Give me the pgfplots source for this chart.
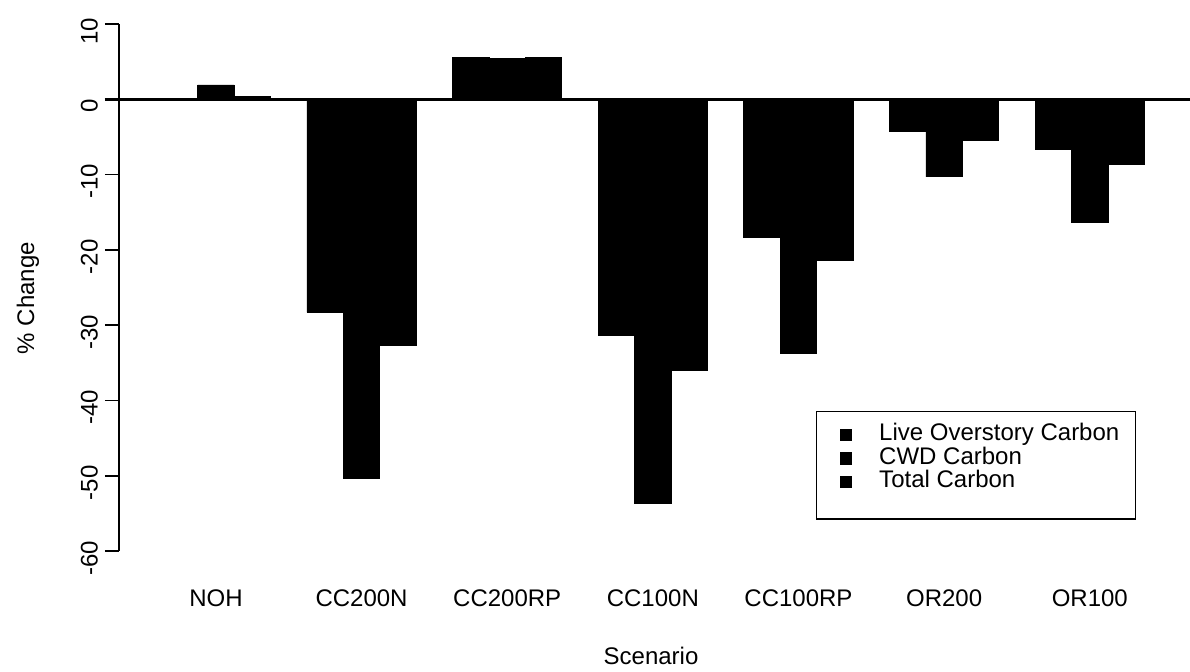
\documentclass[border=0pt]{standalone}
\usepackage{fontspec}
\setmainfont{Liberation Sans}
\usepackage{pgfplots}
\pgfplotsset{compat=1.18}
\begin{document}
\begin{tikzpicture}
\begin{axis}[
  x=18.205pt, y=3.765pt,
  xmin=-0.162, xmax=29.08,
  ymin=-60, ymax=10,
  axis y line*=left,
  axis x line*=bottom,
  x axis line style={draw=none},
  y axis line style={line width=0.85pt},
  xtick={2.5,6.5,10.5,14.5,18.5,22.5,26.5},
  xticklabels={NOH,CC200N,CC200RP,CC100N,CC100RP,OR200,OR100},
  ytick={-60,-50,-40,-30,-20,-10,0,10},
  yticklabels={-60,-50,-40,-30,-20,-10,0,10},
  tick align=outside,
  major tick length=7pt,
  xtick style={draw=none},
  ytick style={line width=0.85pt, black},
  yticklabel style={rotate=90, anchor=south, xshift=-3.5pt},
  xticklabel style={anchor=center, yshift=-16.5pt},
  tick label style={font=\fontsize{12}{14.4}\selectfont},
  label style={font=\fontsize{12}{14.4}\selectfont},
  xlabel={Scenario},
  ylabel={\% Change},
  xlabel style={at={(axis cs:14.45,-73.93)}, anchor=center},
  ylabel style={at={(axis cs:-2.661,-26.39)}, anchor=center},
  clip=false,
  legend style={at={(axis cs:18.98,-41.39)}, anchor=north west, draw=black,
    line width=0.75pt, fill=white, inner xsep=8pt, inner ysep=6pt,
    row sep=0pt, column sep=0pt,
    font=\fontsize{12}{14.4}\selectfont,
    nodes={inner sep=0pt}},
  legend cell align=left,
]
\addplot[ybar, bar width=1, bar shift=0pt, fill=black, draw=black,
  legend image code/.code={\fill[black] (0pt,-2.75pt) rectangle (5.5pt,2.75pt); \path (-3.5pt,-5.6pt) (19pt,2.75pt);}]
  coordinates {(1.5,0) (5.5,-28.3) (9.5,5.6) (13.5,-31.4) (17.5,-18.3) (21.5,-4.2) (25.5,-6.6)};
\addlegendentry[text height=8.6pt, text depth=2.9pt]{Live Overstory Carbon}
\addplot[ybar, bar width=1, bar shift=0pt, fill=black, draw=black,
  legend image code/.code={\fill[black] (0pt,-2.75pt) rectangle (5.5pt,2.75pt); \path (-3.5pt,-5.6pt) (19pt,2.75pt);}]
  coordinates {(2.5,1.9) (6.5,-50.4) (10.5,5.4) (14.5,-53.7) (18.5,-33.7) (22.5,-10.3) (26.5,-16.4)};
\addlegendentry[text height=8.6pt, text depth=2.9pt]{CWD Carbon}
\addplot[ybar, bar width=1, bar shift=0pt, fill=black, draw=black,
  legend image code/.code={\fill[black] (0pt,-2.75pt) rectangle (5.5pt,2.75pt); \path (-3.5pt,-5.6pt) (19pt,2.75pt);}]
  coordinates {(3.5,0.35) (7.5,-32.7) (11.5,5.6) (15.5,-36.0) (19.5,-21.4) (23.5,-5.5) (27.5,-8.6)};
\addlegendentry[text height=8.6pt, text depth=2.9pt]{Total Carbon}
\addlegendimage{empty legend}
\addlegendentry[text height=3.5pt, text depth=3pt]{}
\draw[line width=1.3pt] (axis cs:-0.547,0) -- (axis cs:29.2526,0);
\coordinate (bbsw) at (axis cs:-3.4303,-76.052);
\coordinate (bbne) at (axis cs:29.2526,13.187);
\end{axis}
\pgfresetboundingbox
\path[use as bounding box] (bbsw) rectangle (bbne);
\end{tikzpicture}
\end{document}
